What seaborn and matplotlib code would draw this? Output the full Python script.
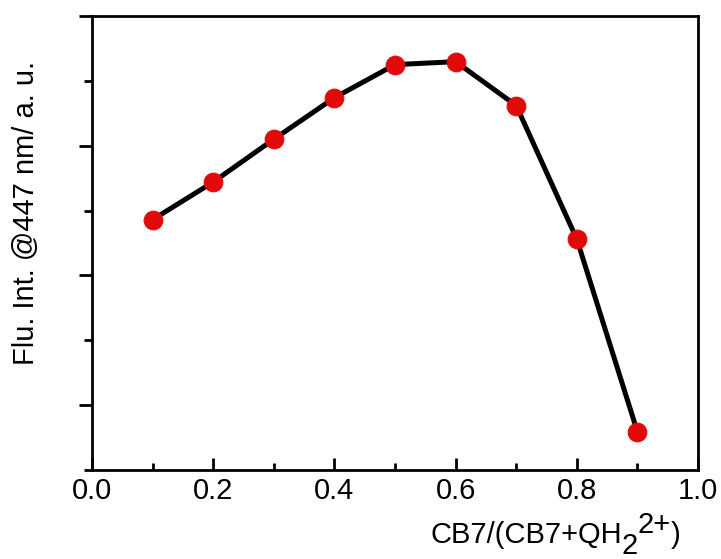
import numpy as np
import pandas as pd
import matplotlib
matplotlib.use('Agg')
import matplotlib.pyplot as plt
import seaborn as sns
from matplotlib.ticker import MultipleLocator, NullFormatter

# CB7 mole fraction vs. fluorescence intensity (arbitrary units)
ratio = [0.1, 0.2, 0.3, 0.4, 0.5, 0.6, 0.7, 0.8, 0.9]
intensity = [2.43, 2.72, 3.05, 3.37, 3.625, 3.648, 3.31, 2.28, 0.795]
xticks = [0.0, 0.2, 0.4, 0.6, 0.8, 1.0]
xticklabels = ['0.0', '0.2', '0.4', '0.6', '0.8', '1.0']

df = pd.DataFrame({'ratio': ratio, 'intensity': intensity})

sns.set_style('ticks')
plt.rcParams['font.family'] = ['Liberation Sans', 'DejaVu Sans']
plt.rcParams['text.color'] = 'black'
plt.rcParams['axes.labelcolor'] = 'black'
plt.rcParams['xtick.color'] = 'black'
plt.rcParams['ytick.color'] = 'black'
plt.rcParams['axes.edgecolor'] = 'black'

fig = plt.figure(figsize=(7.21, 5.59), dpi=100)
ax = fig.add_axes([92/721, 1-470/559, 606/721, 454/559])

red = '#e00a0a'
sns.lineplot(data=df, x='ratio', y='intensity', color='black', linewidth=3.6,
             marker='o', markersize=13.5, markerfacecolor=red,
             markeredgecolor=red, ax=ax)

ax.set_xlim(0, 1.0)
ax.set_ylim(0.5, 4.0)
ax.set_xticks(xticks)
ax.set_xticklabels(xticklabels)
ax.xaxis.set_minor_locator(MultipleLocator(0.1))
ax.yaxis.set_major_locator(MultipleLocator(1.0))
ax.yaxis.set_minor_locator(MultipleLocator(0.5))
ax.yaxis.set_major_formatter(NullFormatter())

for s in ax.spines.values():
    s.set_linewidth(2.0)
    s.set_color('black')

ax.tick_params(axis='x', which='major', direction='in', length=8.6, width=2.0,
               labelsize=21, pad=5, colors='black')
ax.tick_params(axis='x', which='minor', direction='in', length=5, width=2.0,
               colors='black')
ax.tick_params(axis='y', which='major', direction='out', length=9.4, width=2.0,
               colors='black')
ax.tick_params(axis='y', which='minor', direction='out', length=5.8, width=2.0,
               colors='black')

ax.set_xlabel('')
ax.set_ylabel('Flu. Int. @447 nm/ a. u.', fontsize=21, color='black')
ax.yaxis.set_label_coords(-0.085, 0.566)

# x label built from pieces so sub/superscripts keep full size
fs = 21
t1 = ax.text((430-92)/606, (470-543)/454, 'CB7/(CB7+QH', fontsize=fs,
             color='black', transform=ax.transAxes, ha='left', va='baseline')
t2 = ax.annotate('2', xy=(1, 0), xycoords=t1, xytext=(0, -8), color='black',
                 textcoords='offset points', ha='left', va='bottom', fontsize=fs)
t3 = ax.annotate('2+', xy=(1, 0), xycoords=t2, xytext=(0, 15), color='black',
                 textcoords='offset points', ha='left', va='bottom', fontsize=fs)
t4 = ax.annotate(')', xy=(1, 0), xycoords=t3, xytext=(0, -7), color='black',
                 textcoords='offset points', ha='left', va='bottom', fontsize=fs)

fig.savefig('out.png', dpi=100)
plt.close()
